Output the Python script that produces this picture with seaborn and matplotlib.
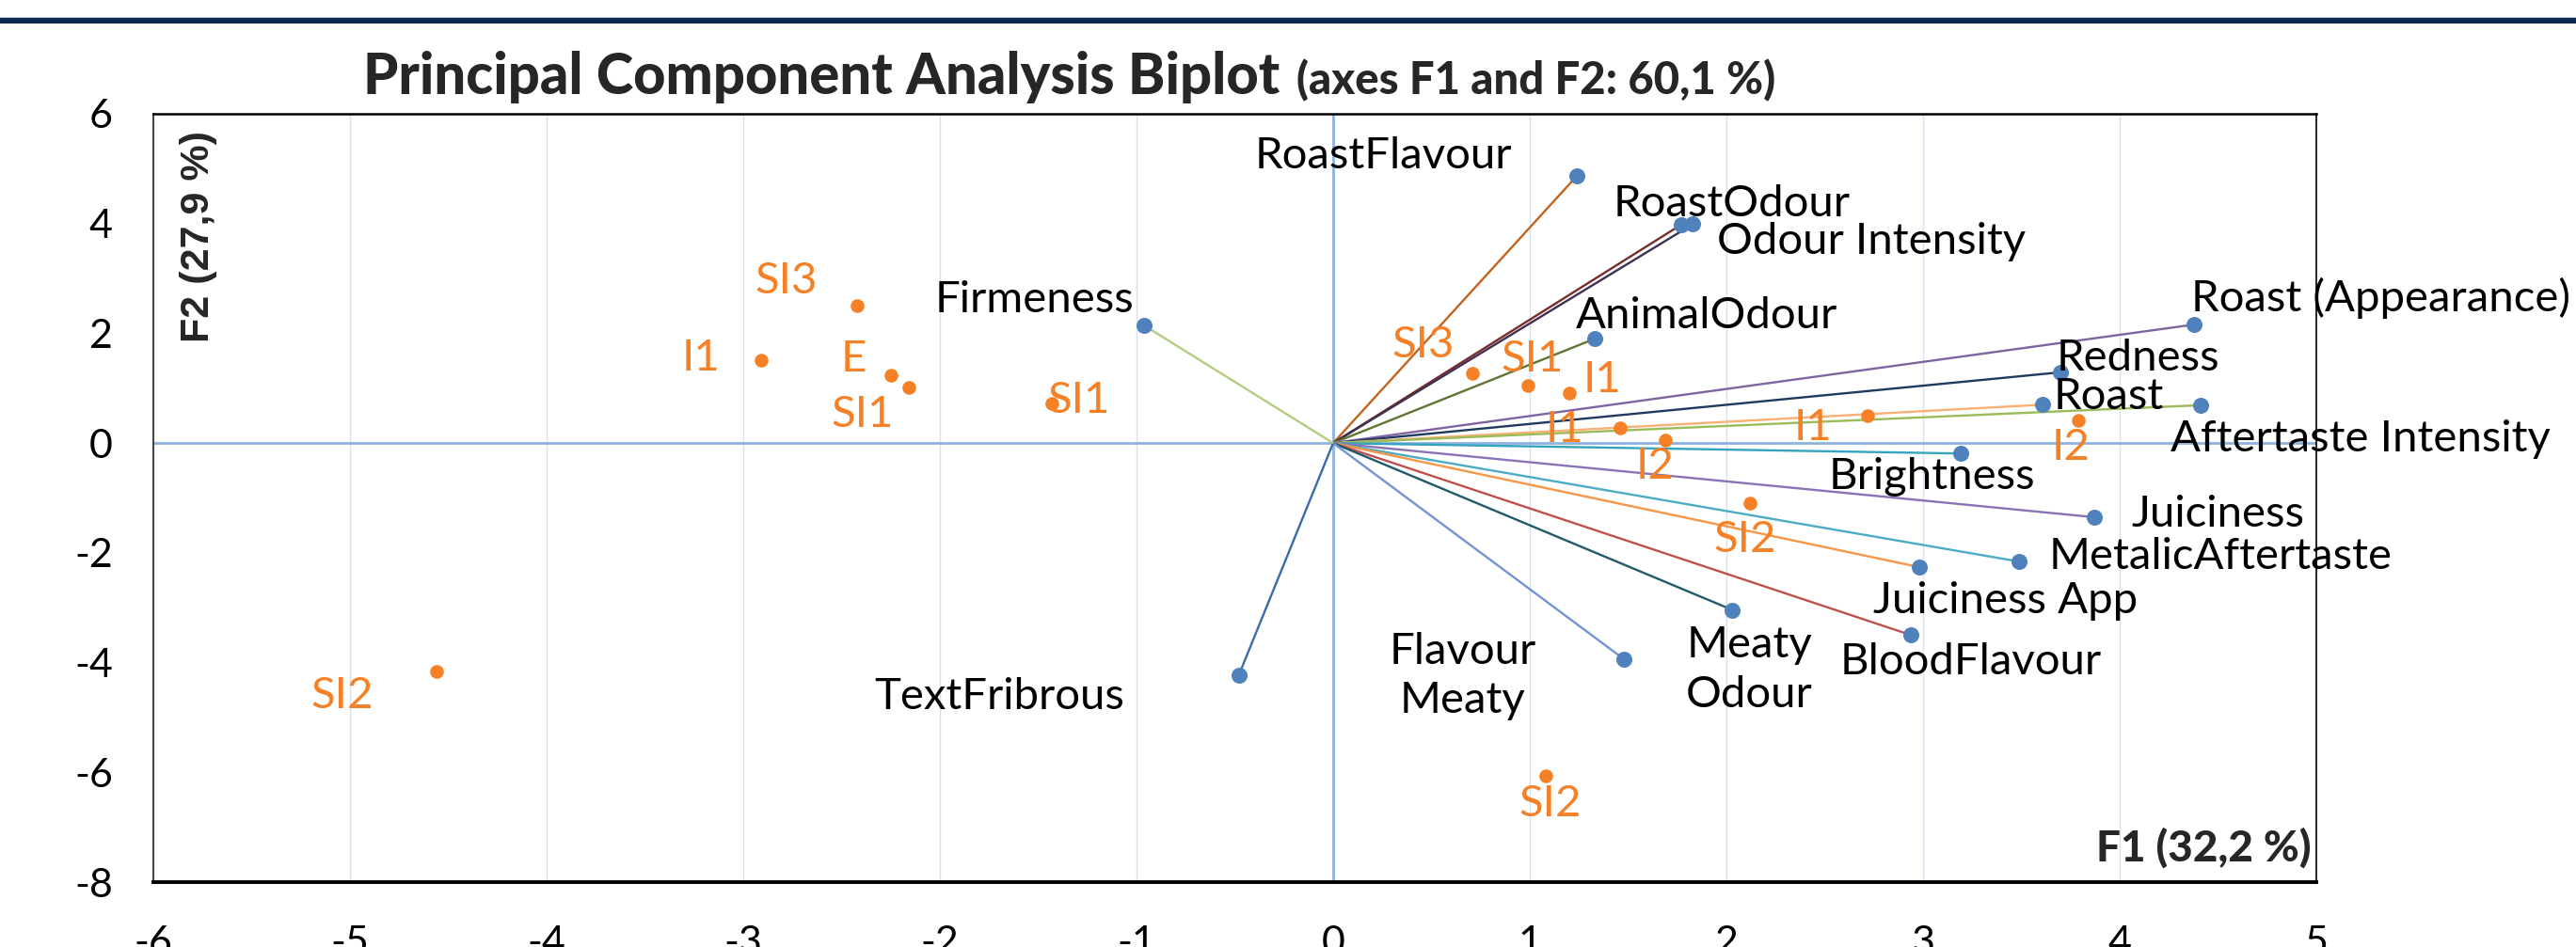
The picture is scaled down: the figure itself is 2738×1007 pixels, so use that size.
import numpy as np
import pandas as pd
import seaborn as sns
import matplotlib
matplotlib.use("Agg")
import matplotlib.pyplot as plt
from matplotlib.patches import Rectangle

# ---------------- data ----------------
var_names = ["RoastFlavour", "RoastOdour", "Odour Intensity", "AnimalOdour",
             "Roast (Appearance)", "Redness", "Roast", "Aftertaste Intensity",
             "Brightness", "Juiciness", "MetalicAftertaste", "Juiciness App",
             "BloodFlavour", "Meaty\nOdour", "Flavour\nMeaty", "TextFribrous",
             "Firmeness"]
var_f1 = [1.24, 1.77, 1.83, 1.33, 4.38, 3.70, 3.61, 4.41, 3.19, 3.87, 3.49,
          2.98, 2.94, 2.03, 1.48, -0.48, -0.96]
var_f2 = [4.87, 3.98, 3.99, 1.90, 2.16, 1.29, 0.70, 0.69, -0.19, -1.35, -2.16,
          -2.26, -3.50, -3.04, -3.94, -4.23, 2.14]

obs_names = ["SI3", "I1", "E", "SI1", "SI1", "SI2", "SI3", "SI1", "I1", "I1",
             "I2", "I1", "I2", "SI2", "SI2"]
obs_f1 = [-2.42, -2.91, -2.25, -2.16, -1.43, -4.56, 0.71, 0.99, 1.20, 1.46,
          1.69, 2.72, 3.79, 2.12, 1.08]
obs_f2 = [2.50, 1.51, 1.23, 1.01, 0.72, -4.16, 1.27, 1.05, 0.91, 0.27,
          0.05, 0.50, 0.41, -1.10, -6.07]

x_ticks = list(range(-6, 6))
y_ticks = list(range(-8, 7, 2))

# ---------------- styles / layout ----------------
var_colors = ["#C4631C", "#772C2A", "#3F3151", "#5F7530", "#8064A2", "#1F3A5F",
              "#F9B074", "#9BBB59", "#35A4C0", "#8A73B5", "#4BACC6", "#F79646",
              "#C0504D", "#215968", "#7094D4", "#3C6AA8", "#B3CC82"]
# label centre offsets from the point, in pixels (x right, y down)
var_dx = [-206, 54, 190, 119, 198, 82, 70, 170, -30, 132, 214, 92, 63, 18, -172, -254, -117]
var_dy = [-25, -26, 15, -28, -32, -19, -12, 32, 21, -7, -9, 32, 25, 60, 14, 19, -31]
obs_dx = [-76, -64, -39, -49, 28, -100, -53, 5, 35, -59, -11, -58, -8, -5, 5]
obs_dy = [-30, -6, -21, 25, -7, 22, -34, -32, -18, -2, 24, 9, 25, 35, 26]

W, H = 2738, 1007
BLUE = "#4F81BD"
ORANGE = "#F58025"

sns.set_theme(style="white")
plt.rcParams["font.family"] = ["Lato", "DejaVu Sans"]

fig = plt.figure(figsize=(W / 100, H / 100), dpi=100)
ax = fig.add_axes([163 / W, 1 - 938 / H, (2462 - 163) / W, (938 - 121) / H])

df_var = pd.DataFrame({"name": var_names, "F1": var_f1, "F2": var_f2})
df_obs = pd.DataFrame({"name": obs_names, "F1": obs_f1, "F2": obs_f2})

# vectors from origin
for x, y, c in zip(df_var["F1"], df_var["F2"], var_colors):
    ax.plot([0, x], [0, y], color=c, lw=1.7, zorder=3, solid_capstyle="butt")

sns.scatterplot(data=df_var, x="F1", y="F2", color=BLUE, s=150, linewidth=0,
                ax=ax, zorder=5, legend=False)
sns.scatterplot(data=df_obs, x="F1", y="F2", color=ORANGE, s=110, linewidth=0,
                ax=ax, zorder=5, legend=False)

lab_fs = 34
for (n, x, y), dx, dy in zip(df_var[["name", "F1", "F2"]].values, var_dx, var_dy):
    ax.annotate(n, (x, y), xytext=(dx, -(dy + 4)), textcoords="offset pixels",
                ha="center", va="center", fontsize=lab_fs, color="black",
                linespacing=1.3, annotation_clip=False, zorder=6)
for (n, x, y), dx, dy in zip(df_obs[["name", "F1", "F2"]].values, obs_dx, obs_dy):
    ax.annotate(n, (x, y), xytext=(dx, -(dy + 4)), textcoords="offset pixels",
                ha="center", va="center", fontsize=lab_fs, color=ORANGE,
                annotation_clip=False, zorder=6)

ax.set_xlim(-6, 5)
ax.set_ylim(-8, 6)
ax.set_xticks(x_ticks)
ax.set_yticks(y_ticks)
ax.set_xticklabels([str(t) for t in x_ticks])
ax.set_yticklabels([str(t) for t in y_ticks])
ax.tick_params(axis="x", length=0, pad=33, labelsize=31, colors="black")
ax.tick_params(axis="y", length=0, pad=31, labelsize=31, colors="black")
ax.set_xlabel("")
ax.set_ylabel("")

ax.grid(False)
for t in x_ticks:
    ax.axvline(t, color="#D7E1EF", lw=1.0, zorder=1)
ax.axvline(0, color="#8EB2E0", lw=2.0, zorder=2)
ax.axhline(0, color="#8EB2E0", lw=2.0, zorder=2)

for side, lw, col in [("top", 1.8, "black"), ("right", 1.2, "black"),
                      ("bottom", 2.8, "black"), ("left", 1.4, "#404040")]:
    ax.spines[side].set_visible(True)
    ax.spines[side].set_linewidth(lw)
    ax.spines[side].set_color(col)

# header rule of the slide
fig.add_artist(Rectangle((0, 1 - 25 / H), 1, 6 / H, transform=fig.transFigure,
                         color="#0B2A55", lw=0))
fig.add_artist(Rectangle((0, 1 - 19 / H), 1, 1 / H, transform=fig.transFigure,
                         color="#C8CDD6", lw=0))

# titles
t1 = fig.text(386 / W, 1 - 100 / H, "Principal Component Analysis Biplot",
              fontsize=43, fontweight="black", ha="left", va="baseline")
fig.canvas.draw()
bb = t1.get_window_extent()
fig.text((bb.x1 + 18) / W, 1 - 100 / H, "(axes F1 and F2: 60,1 %)",
         fontsize=34, fontweight="black", ha="left", va="baseline")

fig.text(211 / W, 1 - 252 / H, "F2 (27,9 %)", rotation=90, ha="center",
         va="center", fontsize=31, fontweight="bold",
         family=["Liberation Sans", "DejaVu Sans"])
fig.text(2456 / W, 1 - 902 / H, "F1 (32,2 %)", ha="right", va="center",
         fontsize=33, fontweight="black")

fig.savefig("out.png", dpi=100)
